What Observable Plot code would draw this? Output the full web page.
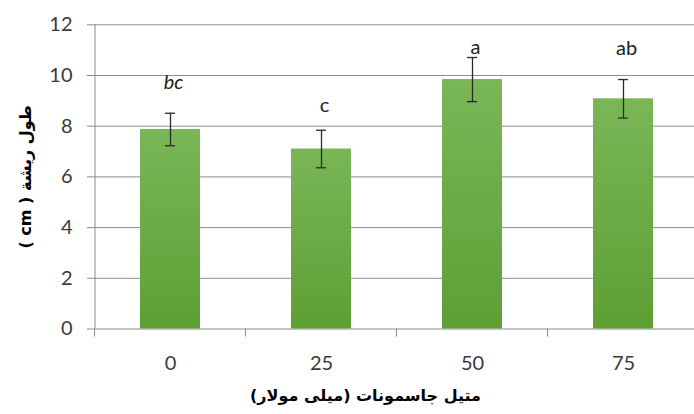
<!DOCTYPE html>
<html>
<head>
<meta charset="utf-8">
<script src="https://cdn.jsdelivr.net/npm/d3@7"></script>
<script src="https://cdn.jsdelivr.net/npm/@observablehq/plot@0.6"></script>
<style>
  body { margin: 0; background: #fff; }
</style>
</head>
<body>
<div id="chart"></div>
<script>
// Methyl jasmonate concentration (mM) and mean root length (cm) ± error
const concentrations = ["0", "25", "50", "75"];
const rootLength = [7.87, 7.10, 9.84, 9.08];
const errorAmount = [0.64, 0.74, 0.87, 0.76];
const groupLetters = ["bc", "c", "a", "ab"];
const yTicks = [0, 2, 4, 6, 8, 10, 12];
const yTitle = "طول ريشة ( cm )";
const xTitle = "متيل جاسمونات (ميلى مولار)";

const rows = concentrations.map((c, i) => ({
  c,
  v: rootLength[i],
  lo: rootLength[i] - errorAmount[i],
  hi: rootLength[i] + errorAmount[i],
  letter: groupLetters[i]
}));

// right-to-left embedding so the Arabic titles keep their reading order
const rtl = s => "\u202B" + s + "\u202C";

// how far (px) each significance letter sits above its error bar
const letterLift = {bc: 31, c: 25, a: 10, ab: 31};
const gridColor = "#8c8c8c";
const textColor = "#3a3a3a";

// gradient used by every bar (lighter at top, darker at base)
function barGradient() {
  const defs = d3.create("svg:defs");
  const lg = defs.append("linearGradient")
    .attr("id", "barFill").attr("x1", 0).attr("x2", 0).attr("y1", 0).attr("y2", 1);
  lg.append("stop").attr("offset", "0%").attr("stop-color", "#7ab657");
  lg.append("stop").attr("offset", "100%").attr("stop-color", "#5e9f34");
  return defs.node();
}

// vertical axis line plus category-boundary ticks under the baseline
function axisFrame(index, scales, values, dim) {
  const x = scales.x, y = scales.y;
  const n = concentrations.length;
  const step = x.step ? x.step() : (dim.width - dim.marginLeft - dim.marginRight) / n;
  const bw = x.bandwidth ? x.bandwidth() : step * 0.4;
  const y0 = y(0);
  const g = d3.create("svg:g").attr("stroke", gridColor).attr("fill", "none");
  g.append("line")
    .attr("x1", dim.marginLeft).attr("x2", dim.marginLeft)
    .attr("y1", y(d3.max(yTicks))).attr("y2", y0);
  const bounds = concentrations.map(c => x(c) + bw / 2 - step / 2);
  bounds.push(bounds[n - 1] + step);
  for (const bx of bounds) {
    g.append("line").attr("x1", bx).attr("x2", bx).attr("y1", y0).attr("y2", y0 + 8);
  }
  return g.node();
}

const plot = Plot.plot({
  width: 694,
  height: 414,
  marginLeft: 95,
  marginRight: -5,
  marginTop: 24.3,
  marginBottom: 85.5,
  style: {fontFamily: "Lato, 'Open Sans', sans-serif", background: "#fff", color: textColor},
  x: {domain: concentrations, paddingInner: 0.6, paddingOuter: 0.3},
  y: {domain: [0, 12]},
  marks: [
    barGradient,
    Plot.ruleY(yTicks, {stroke: gridColor, strokeWidth: 1}),
    Plot.barY(rows, {x: "c", y: "v", fill: "url(#barFill)"}),
    axisFrame,
    Plot.ruleX(rows, {x: "c", y1: "lo", y2: "hi", stroke: "#2a2a2a", strokeWidth: 1.3}),
    Plot.tickY(rows, {x: "c", y: "hi", insetLeft: 25, insetRight: 25, stroke: "#2a2a2a", strokeWidth: 1.3}),
    Plot.tickY(rows, {x: "c", y: "lo", insetLeft: 25, insetRight: 25, stroke: "#2a2a2a", strokeWidth: 1.3}),
    ...rows.map(r => Plot.text([r], {
      x: "c", y: "hi", text: "letter",
      dy: -letterLift[r.letter], dx: 3,
      fontSize: 20,
      fontStyle: r.letter === "bc" ? "italic" : "normal",
      fill: "#222"
    })),
    Plot.axisY({ticks: yTicks, tickSize: 8, tickPadding: 15, fontSize: 20, stroke: gridColor, fill: textColor, label: null}),
    Plot.axisX({tickSize: 0, tickPadding: 26.5, fontSize: 20, fill: textColor, label: null}),
    Plot.text([rtl(yTitle)], {
      frameAnchor: "left", dx: -70, rotate: -90,
      textAnchor: "middle", lineAnchor: "middle",
      fontSize: 16, fontWeight: "bold", fontFamily: "DejaVu Sans", fill: "#000"
    }),
    Plot.text([rtl(xTitle)], {
      frameAnchor: "bottom", dy: 72, dx: -32,
      textAnchor: "middle",
      fontSize: 16, fontWeight: "bold", fontFamily: "DejaVu Sans", fill: "#000"
    })
  ]
});

document.getElementById("chart").append(plot);
</script>
</body>
</html>
